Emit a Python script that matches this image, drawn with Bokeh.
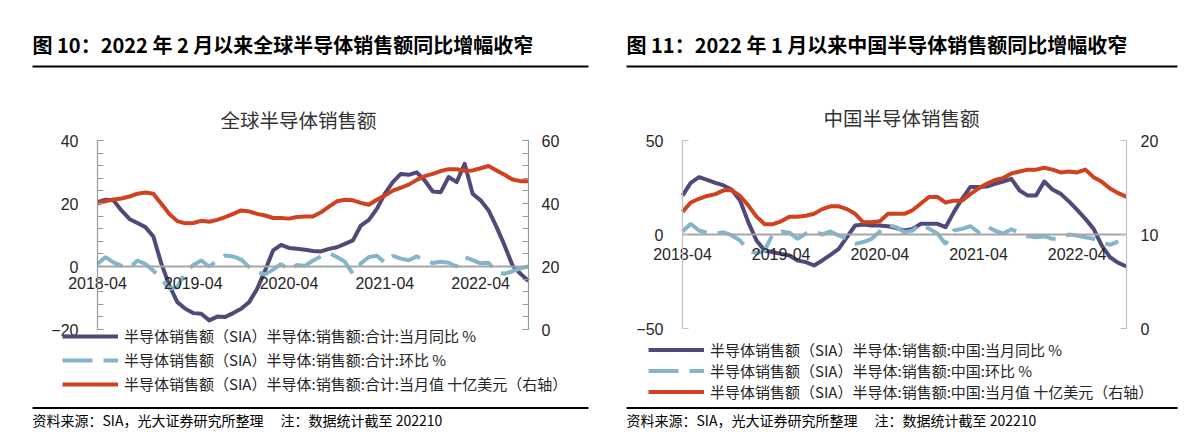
from bokeh.plotting import figure
from bokeh.models import (Range1d, LinearAxis, FixedTicker, Label, BoxAnnotation,
                          Legend, LegendItem, ColumnDataSource)
from bokeh.layouts import row
from bokeh.embed import file_html
from bokeh.resources import INLINE

# ---------------- data ----------------
months = []
for k in range(55):
    yy = 2018 + (3 + k) // 12
    mm = (3 + k) % 12 + 1
    months.append(f"{yy}-{mm:02d}")
tick_labels = ["2018-04", "2019-04", "2020-04", "2021-04", "2022-04"]

glob_yoy = [20.4, 21.2, 21.0, 17.8, 15.1, 13.8, 12.5, 9.5, 0.9, -6.0,
            -11.3, -13.4, -14.8, -15.0, -17.1, -15.9, -16.0, -14.8, -13.4, -11.3,
            -7.1, -1.3, 5.1, 6.9, 5.9, 5.6, 5.3, 4.9, 4.8, 5.6,
            6.1, 7.2, 8.3, 13.0, 14.8, 18.3, 23.1, 26.8, 29.4, 29.1,
            29.9, 27.3, 23.8, 23.6, 28.4, 26.8, 32.6, 23.1, 21.0, 17.8,
            12.5, 6.7, 0.3, -2.3, -4.6]
glob_mom = [0.8, 3.0, 1.3, 0.2, -0.5, 1.9, 0.8, -1.3, -4.0, -7.0,
            -6.6, -1.8, 0.5, 1.9, 0.0, 1.9, 3.5, 3.2, 2.2, -0.2,
            -1.8, -2.5, -1.0, 0.8, -1.1, 0.5, 0.2, 1.9, 3.2, 4.3,
            3.0, 1.5, -2.3, 1.0, 3.0, 3.4, 1.2, 3.4, 2.5, 2.0,
            3.2, 2.0, 1.1, 1.5, 1.2, 0.0, 3.0, 2.0, 1.0, 1.2,
            -1.8, -2.3, -1.5, -0.6, 0.0]
glob_val = [40.1, 40.7, 41.3, 41.6, 42.2, 43.1, 43.5, 43.1, 39.9, 36.7,
            34.4, 33.7, 33.8, 34.5, 34.2, 34.8, 35.7, 36.7, 37.8, 37.5,
            36.7, 36.2, 35.4, 35.4, 35.2, 35.7, 35.9, 35.9, 37.2, 39.0,
            40.7, 41.2, 41.0, 40.2, 39.6, 41.2, 42.5, 44.1, 45.0, 46.0,
            47.5, 48.7, 49.4, 50.3, 50.9, 50.9, 50.4, 50.5, 51.2, 51.9,
            50.5, 49.1, 47.6, 47.1, 47.1]

cn_yoy = [20.7, 27.5, 30.5, 29.1, 27.5, 26.1, 23.8, 18.1, 6.6, -3.2,
          -8.5, -9.4, -10.3, -11.2, -13.8, -14.7, -16.5, -13.8, -10.8, -7.6,
          -1.4, 4.8, 5.3, 4.8, 4.8, 4.4, 3.4, 2.1, 3.0, 5.7,
          5.7, 5.7, 3.9, 11.9, 19.0, 25.2, 25.2, 25.5, 27.0, 28.2,
          29.6, 23.4, 20.7, 20.7, 28.2, 23.9, 21.6, 17.6, 13.1, 8.3,
          3.0, -5.9, -12.1, -15.1, -17.0]
cn_mom = [1.6, 5.7, 2.1, 0.9, 0.5, 1.2, -0.5, -3.2, -8.5, -10.0,
          -8.5, 0.5, 1.6, 1.0, -2.3, 0.5, 1.6, 0.0, 1.6, -0.5,
          -2.3, -5.0, -4.0, -2.3, 1.6, 5.0, 3.9, 1.2, 2.1, 5.7,
          3.0, 0.5, -5.0, 2.1, 3.0, 4.4, 1.2, 4.4, 2.0, 0.5,
          2.8, 0.9, -0.9, -1.5, -0.9, -2.3, -2.3, 0.0, -0.5, -1.5,
          -2.3, -4.1, -5.5, -3.7, float("nan")]
cn_val = [12.4, 13.4, 13.8, 14.1, 14.3, 14.7, 14.7, 14.1, 13.1, 11.9,
          11.1, 11.1, 11.4, 11.9, 11.9, 12.0, 12.2, 12.7, 13.0, 13.0,
          12.7, 12.2, 11.3, 11.3, 11.4, 12.2, 12.2, 12.2, 12.6, 13.3,
          14.0, 14.0, 13.4, 13.6, 13.6, 14.3, 14.9, 15.4, 15.8, 16.0,
          16.5, 16.7, 16.9, 16.9, 17.1, 16.9, 16.6, 16.7, 16.6, 16.9,
          16.1, 15.6, 14.9, 14.4, 14.0]

PURPLE = "#50497A"
LBLUE = "#84B5CB"
RED = "#D0411F"
CJK = "Noto Sans CJK SC"
NUM = "Liberation Sans"
TXT = "#262626"
H = 435


def build(cfg):
    L, R, T, B = cfg["frame"]          # plot-area edges inside this panel's canvas (px)
    W = cfg["width"]
    n_last = len(months) - 1
    lbot, ltop = cfg["lrange"]
    rbot, rtop = cfg["rrange"]
    kx = (R - L) / n_last
    ky = (B - T) / (ltop - lbot)
    kr = (B - T) / (rtop - rbot)
    x_range = Range1d(-L / kx, n_last + (W - R) / kx)
    y_range = Range1d(lbot - (H - B) / ky, ltop + T / ky)

    src = ColumnDataSource(dict(x=list(range(len(months))), month=months,
                                yoy=cfg["yoy"], mom=cfg["mom"], val=cfg["val"]))

    p = figure(width=W, height=H, min_border=0, min_border_left=0, min_border_right=0,
               min_border_top=0, min_border_bottom=0,
               x_range=x_range, y_range=y_range,
               output_backend="svg", toolbar_location=None, title=None)
    p.outline_line_color = None
    p.grid.visible = False
    p.background_fill_color = "white"
    p.border_fill_color = "white"
    p.extra_y_ranges = {"r": Range1d(rbot - (H - B) / kr, rtop + T / kr)}

    # x axis drawn on the zero line
    xa = p.xaxis[0]
    xa.ticker = FixedTicker(ticks=[months.index(t) for t in tick_labels])
    xa.major_label_overrides = {months.index(t): t for t in tick_labels}
    xa.fixed_location = 0
    xa.bounds = (0, n_last)
    xa.axis_line_color = cfg["zero_color"]
    xa.axis_line_width = 2.2
    xa.major_tick_in = 0
    xa.major_tick_out = 0
    xa.minor_tick_in = 0
    xa.minor_tick_out = 0
    xa.major_label_text_font = NUM
    xa.major_label_text_font_size = "16px"
    xa.major_label_text_color = TXT
    xa.major_label_standoff = cfg["xstand"]

    ya = p.yaxis[0]
    ya.ticker = FixedTicker(ticks=cfg["lticks"], minor_ticks=cfg["lminor"])
    ya.fixed_location = 0
    ya.bounds = (lbot, ltop)
    yr = LinearAxis(y_range_name="r", ticker=FixedTicker(ticks=cfg["rticks"], minor_ticks=cfg["rminor"]),
                    fixed_location=n_last, bounds=(rbot, rtop))
    p.add_layout(yr, "right")
    for ax, st in ((ya, cfg["lstand"]), (yr, cfg["rstand"])):
        ax.axis_line_color = cfg["axis_color"]
        ax.axis_line_width = 1.2
        ax.major_tick_line_color = cfg["axis_color"]
        ax.minor_tick_line_color = cfg["axis_color"]
        ax.major_tick_in = 6
        ax.major_tick_out = 0
        ax.minor_tick_in = 6 if cfg["lminor"] else 0
        ax.minor_tick_out = 0
        ax.major_label_text_font = NUM
        ax.major_label_text_font_size = "16px"
        ax.major_label_text_color = TXT
        ax.major_label_standoff = st

    r_yoy = p.line("x", "yoy", source=src, color=PURPLE, line_width=4, line_join="round")
    r_mom = p.line("x", "mom", source=src, color=LBLUE, line_width=4, line_dash="30 11")
    r_val = p.line("x", "val", source=src, color=RED, line_width=4, y_range_name="r", line_join="round")

    def sy(cy):
        return H - cy

    def label(cx, cy, text, size, font, style="normal", align="left", color=TXT):
        p.add_layout(Label(x=cx, y=sy(cy), x_units="screen", y_units="screen", text=text,
                           text_font=font, text_font_size=size, text_font_style=style,
                           text_align=align, text_baseline="middle", text_color=color))

    def hline(x0, x1, y0, y1):
        p.add_layout(BoxAnnotation(left=x0, right=x1, top=sy(y0), bottom=sy(y1),
                                   left_units="screen", right_units="screen",
                                   top_units="screen", bottom_units="screen",
                                   fill_color="black", fill_alpha=1.0, line_color=None))

    label(cfg["title_x"], 44, cfg["title"], "20px", CJK, style="bold", color="black")
    hline(cfg["title_x"], cfg["rule_end"], 65, 67)
    label(cfg["ctitle_x"], cfg["ctitle_y"], cfg["ctitle"], "19.5px", CJK, align="center", color="#333333")
    hline(cfg["title_x"], cfg["rule_end"], 406.5, 408.5)
    label(cfg["title_x"], 419.5, "资料来源：SIA，光大证券研究所整理　 注：数据统计截至 202210", "14px", CJK, color="black")

    items = [LegendItem(label=cfg["legend"][0], renderers=[r_yoy]),
             LegendItem(label=cfg["legend"][1], renderers=[r_mom]),
             LegendItem(label=cfg["legend"][2], renderers=[r_val])]
    rh = cfg["leg_row"]
    top = cfg["leg_y"] - rh / 2
    leg = Legend(items=items, location=(cfg["leg_x"], sy(top + 3 * rh)),
                 orientation="vertical", glyph_width=56, glyph_height=rh, label_height=rh,
                 spacing=0, padding=0, margin=0, label_standoff=6,
                 label_text_font=CJK, label_text_font_size="15px", label_text_color=TXT,
                 border_line_color=None, background_fill_alpha=0)
    p.add_layout(leg)
    return p


left_cfg = dict(
    width=601, frame=(97, 528, 140, 329),
    yoy=glob_yoy, mom=glob_mom, val=glob_val,
    lrange=(-20, 40), lticks=[-20, 0, 20, 40], lminor=list(range(-20, 41, 4)),
    rrange=(0, 60), rticks=[0, 20, 40, 60], rminor=list(range(0, 61, 4)),
    axis_color="#9a9a9a", zero_color="#a6a6a6", xstand=10, lstand=19, rstand=13,
    title="图 10：2022 年 2 月以来全球半导体销售额同比增幅收窄", title_x=32, rule_end=588,
    ctitle="全球半导体销售额", ctitle_x=298, ctitle_y=119,
    legend=["半导体销售额（SIA）半导体:销售额:合计:当月同比 %",
            "半导体销售额（SIA）半导体:销售额:合计:环比 %",
            "半导体销售额（SIA）半导体:销售额:合计:当月值 十亿美元（右轴）"],
    leg_x=62, leg_y=335.5, leg_row=24,
)
right_cfg = dict(
    width=602, frame=(81, 525, 140, 328),
    yoy=cn_yoy, mom=cn_mom, val=cn_val,
    lrange=(-50, 50), lticks=[-50, 0, 50], lminor=[],
    rrange=(0, 20), rticks=[0, 10, 20], rminor=[],
    axis_color="#c0c0c0", zero_color="#a6a6a6", xstand=13, lstand=19, rstand=14,
    title="图 11：2022 年 1 月以来中国半导体销售额同比增幅收窄", title_x=25, rule_end=576,
    ctitle="中国半导体销售额", ctitle_x=300, ctitle_y=117,
    legend=["半导体销售额（SIA）半导体:销售额:中国:当月同比 %",
            "半导体销售额（SIA）半导体:销售额:中国:环比 %",
            "半导体销售额（SIA）半导体:销售额:中国:当月值 十亿美元（右轴）"],
    leg_x=47, leg_y=349, leg_row=21,
)

p1 = build(left_cfg)
p2 = build(right_cfg)
layout = row(p1, p2, spacing=0)
open("out.html", "w").write(file_html(layout, INLINE))
